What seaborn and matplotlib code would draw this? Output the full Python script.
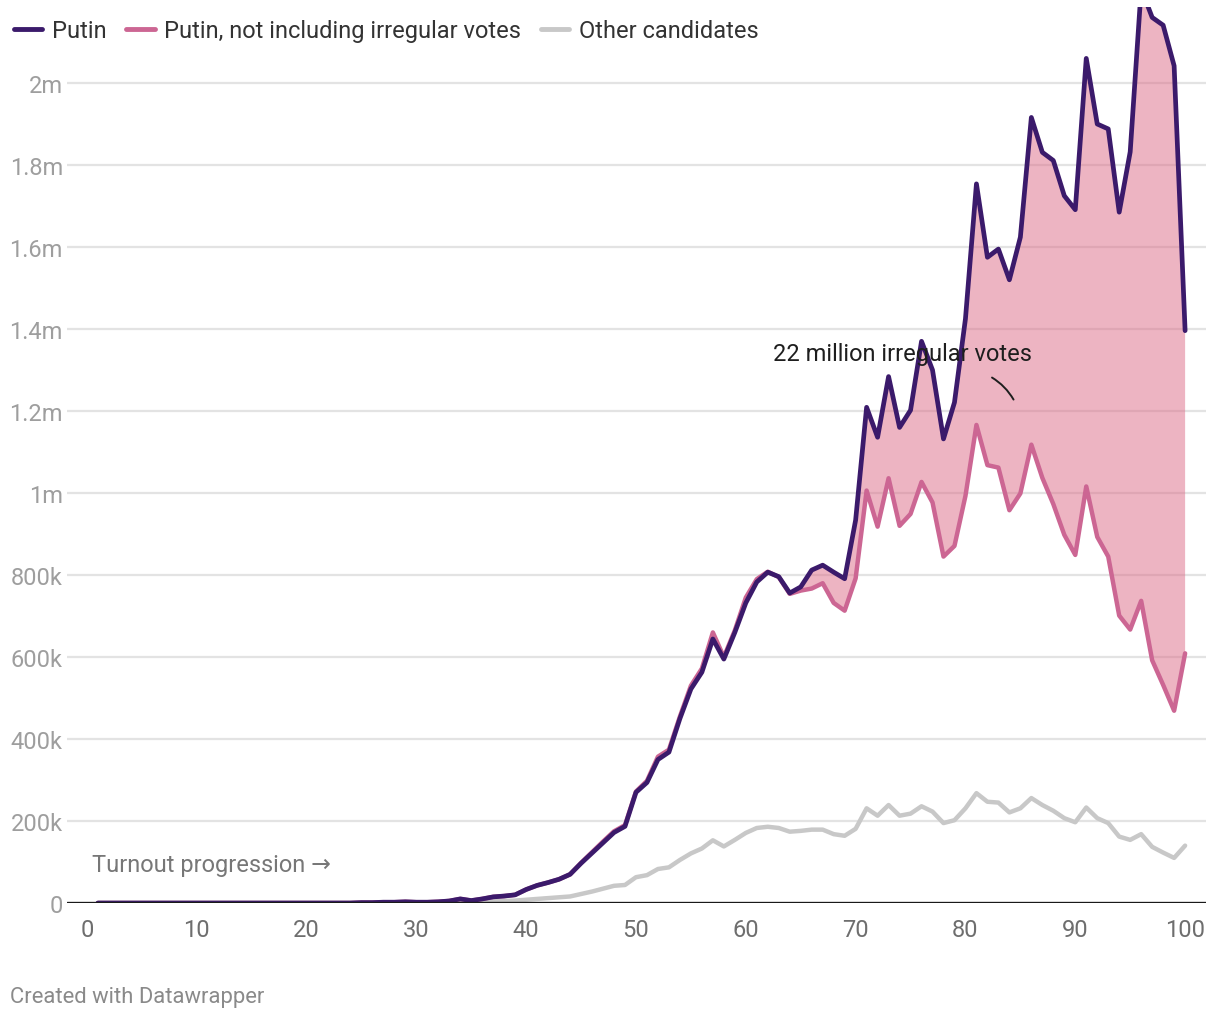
import pandas as pd
import seaborn as sns
import matplotlib.pyplot as plt
from matplotlib.lines import Line2D

# Data (values in thousands of votes), turnout 1..100
turnout = list(range(1, 101))

putin = [0] * 24 + [
    1, 1, 2, 2, 3, 2, 2, 3, 5, 10,            # 25-34
    6, 10, 15, 17, 20, 33, 43, 50, 58, 70,    # 35-44
    97, 122, 147, 172, 187, 270, 294, 350, 368, 450,   # 45-54
    522, 563, 644, 595, 660, 732, 783, 807, 796, 756,  # 55-64
    771, 812, 824, 807, 791, 934, 1209, 1136, 1284, 1160,   # 65-74
    1202, 1370, 1300, 1132, 1221, 1425, 1754, 1575, 1595, 1520,  # 75-84
    1624, 1916, 1831, 1811, 1725, 1691, 2060, 1900, 1888, 1685,  # 85-94
    1832, 2230, 2160, 2141, 2042, 1396,        # 95-100
]

putin_regular = [0] * 24 + [
    1, 1, 2, 2, 3, 2, 2, 3, 5, 10,
    6, 10, 15, 17, 20, 33, 43, 50, 58, 70,
    98, 124, 150, 175, 190, 272, 298, 357, 374, 455,
    530, 572, 660, 600, 665, 745, 790, 808, 795, 754,
    762, 767, 780, 732, 713, 792, 1006, 918, 1036, 920,
    949, 1027, 977, 845, 871, 993, 1166, 1068, 1062, 958,
    999, 1118, 1037, 973, 898, 849, 1016, 893, 845, 701,
    667, 737, 592, 532, 469, 609,
]

others = [0] * 30 + [
    1, 1, 2, 2, 3, 3, 4, 5, 6, 8,             # 31-40
    10, 12, 14, 16, 22, 28, 35, 42, 44, 63,   # 41-50
    68, 83, 87, 105, 121, 133, 153, 138, 154, 171,   # 51-60
    183, 186, 183, 174, 176, 179, 179, 168, 164, 181,  # 61-70
    231, 213, 239, 213, 218, 236, 223, 195, 202, 231,  # 71-80
    268, 247, 245, 221, 231, 256, 239, 225, 207, 197,  # 81-90
    233, 207, 195, 162, 154, 168, 137, 123, 110, 140,  # 91-100
]

series_names = ["Putin", "Putin, not including irregular votes", "Other candidates"]
series_colors = ["#3b1a6b", "#cc6693", "#c8c8c8"]

y_ticks = [0, 200, 400, 600, 800, 1000, 1200, 1400, 1600, 1800, 2000]
y_tick_labels = ["0", "200k", "400k", "600k", "800k", "1m", "1.2m", "1.4m", "1.6m", "1.8m", "2m"]
x_ticks = list(range(0, 101, 10))

df = pd.DataFrame({
    "turnout": turnout,
    "putin": putin,
    "regular": putin_regular,
    "others": others,
})

sns.set_theme(style="white")
plt.rcParams["font.family"] = ["Roboto", "DejaVu Sans"]

fig = plt.figure(figsize=(12.2, 10.2), dpi=100)
ax = fig.add_axes([0.055, 0.1137, 0.9335, 0.8783])

# Grid lines
for t in y_ticks[1:]:
    ax.axhline(t, color="#e3e3e3", linewidth=1.6, zorder=0)

# Area of irregular votes
ax.fill_between(df["turnout"], df["regular"], df["putin"],
                where=df["putin"] >= df["regular"], interpolate=True,
                color="#dd6b86", alpha=0.5, linewidth=0, zorder=1)

sns.lineplot(data=df, x="turnout", y="others", ax=ax, color=series_colors[2],
             linewidth=3.2, zorder=2)
sns.lineplot(data=df, x="turnout", y="regular", ax=ax, color=series_colors[1],
             linewidth=3.2, zorder=3)
sns.lineplot(data=df, x="turnout", y="putin", ax=ax, color=series_colors[0],
             linewidth=3.4, zorder=4)
for ln in ax.get_lines():
    ln.set_solid_joinstyle("round")
    ln.set_solid_capstyle("round")

ax.axhline(0, color="#1a1a1a", linewidth=2.4, zorder=5)

ax.set_xlim(-1.8, 101.9)
ax.set_ylim(0, 2185)
ax.set_xlabel("")
ax.set_ylabel("")
for s in ax.spines.values():
    s.set_visible(False)

ax.set_yticks(y_ticks)
ax.set_yticklabels(y_tick_labels)
ax.set_xticks(x_ticks)
ax.tick_params(axis="y", length=0, pad=3, labelsize=17, labelcolor="#9e9e9e")
ax.tick_params(axis="x", length=0, pad=11, labelsize=17, labelcolor="#6e6e6e")
for lab in ax.get_yticklabels():
    lab.set_horizontalalignment("right")

# Annotations
ax.text(0.5, 93, "Turnout progression \u2192", fontsize=17, color="#777777",
        ha="left", va="center")
ax.text(62.5, 1341, "22 million irregular votes", fontsize=17, color="#1e1e1e",
        ha="left", va="center", zorder=6)
ax.annotate("", xy=(84.5, 1222), xytext=(82.2, 1285),
            arrowprops=dict(arrowstyle="-", color="#1e1e1e", linewidth=1.4,
                            connectionstyle="arc3,rad=-0.15"), zorder=6)

# Legend
handles = [Line2D([0], [0], color=c, linewidth=3.5, solid_capstyle="round")
           for c in series_colors]
fig.legend(handles, series_names, loc="upper left", bbox_to_anchor=(-0.006, 1.001),
           ncol=3, frameon=False, fontsize=17, handlelength=1.2,
           handletextpad=0.4, columnspacing=0.85, labelcolor="#333333")

fig.text(0.008, 0.0225, "Created with Datawrapper", fontsize=15.8, color="#8a8a8a",
         ha="left", va="center")

fig.savefig("out.png", dpi=100)
